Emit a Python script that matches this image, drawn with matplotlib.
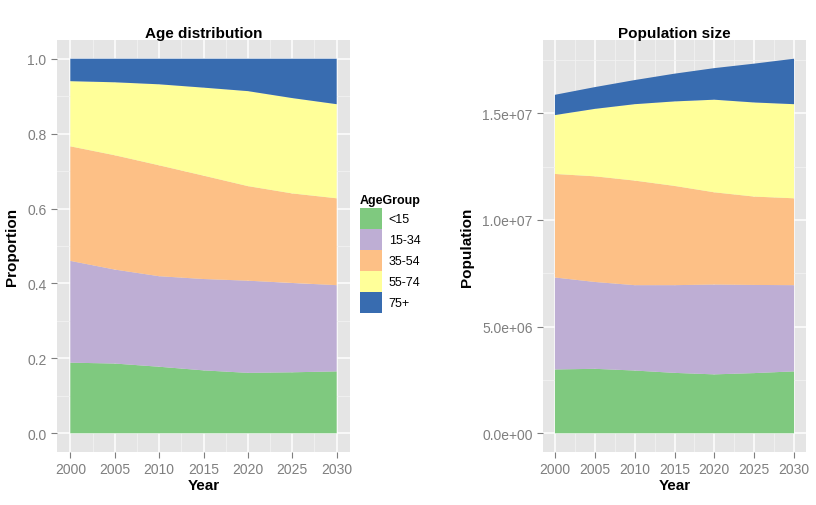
import numpy as np
import matplotlib.pyplot as plt
from matplotlib.patches import Patch
from matplotlib.ticker import MultipleLocator, FixedLocator

plt.rcParams['font.family'] = ['Liberation Sans', 'DejaVu Sans']

# population by age group
anos = np.array([2000, 2005, 2010, 2015, 2020, 2025, 2030])
grupos = ['<15', '15-34', '35-54', '55-74', '75+']
pop_0_14 = np.array([2.99, 3.02, 2.94, 2.83, 2.76, 2.82, 2.90]) * 1e6
pop_15_34 = np.array([4.31, 4.07, 4.00, 4.11, 4.21, 4.13, 4.04]) * 1e6
pop_35_54 = np.array([4.85, 4.95, 4.90, 4.65, 4.32, 4.14, 4.07]) * 1e6
pop_55_74 = np.array([2.76, 3.16, 3.58, 3.96, 4.34, 4.41, 4.41]) * 1e6
pop_75 = np.array([0.95, 1.02, 1.13, 1.30, 1.48, 1.82, 2.13]) * 1e6
cores = ['#7FC97F', '#BEAED4', '#FDC086', '#FFFF99', '#386CB0']

populacao = np.vstack([pop_0_14, pop_15_34, pop_35_54, pop_55_74, pop_75])
proporcao = populacao / populacao.sum(axis=0)

fig = plt.figure(figsize=(8.16, 5.06), dpi=100)
ax1 = fig.add_axes([57 / 816, 53 / 506, 293 / 816, 412 / 506])
ax2 = fig.add_axes([543 / 816, 53 / 506, 263 / 816, 412 / 506])


def estilo(ax):
    ax.set_facecolor('#E5E5E5')
    for s in ax.spines.values():
        s.set_visible(False)
    ax.grid(which='major', color='white', linewidth=1.1)
    ax.grid(which='minor', color='#F2F2F2', linewidth=0.6)
    ax.set_axisbelow(True)
    ax.tick_params(which='major', colors='#7F7F7F', labelsize=10, length=4, width=0.8)
    ax.tick_params(which='minor', length=0)
    ax.xaxis.set_major_locator(MultipleLocator(5))
    ax.xaxis.set_minor_locator(MultipleLocator(2.5))
    ax.set_xlim(1998.5, 2031.5)
    ax.set_xlabel('Year', fontsize=11, fontweight='bold', labelpad=1)


# age distribution
ax1.stackplot(anos, proporcao, colors=cores, linewidth=0)
estilo(ax1)
ax1.set_ylim(-0.05, 1.05)
ax1.yaxis.set_major_locator(FixedLocator([0, 0.2, 0.4, 0.6, 0.8, 1.0]))
ax1.yaxis.set_minor_locator(FixedLocator([0.1, 0.3, 0.5, 0.7, 0.9]))
ax1.set_yticklabels(['0.0', '0.2', '0.4', '0.6', '0.8', '1.0'])
ax1.set_ylabel('Proportion', fontsize=11, fontweight='bold', labelpad=6)
ax1.set_title('Age distribution', fontsize=11, fontweight='bold', pad=2)

# population size
ax2.stackplot(anos, populacao, colors=cores, linewidth=0)
estilo(ax2)
topo = populacao.sum(axis=0).max()
ax2.set_ylim(-0.05 * topo, 1.05 * topo)
ax2.yaxis.set_major_locator(FixedLocator([0, 5e6, 1e7, 1.5e7]))
ax2.yaxis.set_minor_locator(FixedLocator([2.5e6, 7.5e6, 1.25e7, 1.75e7]))
ax2.set_yticklabels(['0.0e+00', '5.0e+06', '1.0e+07', '1.5e+07'])
ax2.set_ylabel('Population', fontsize=11, fontweight='bold', labelpad=6)
ax2.set_title('Population size', fontsize=11, fontweight='bold', pad=2)

# legenda
alcas = [Patch(facecolor=c, edgecolor='none') for c in cores]
leg = fig.legend(alcas, grupos, title='AgeGroup', loc='upper left',
                 bbox_to_anchor=(360 / 816, 1 - 195 / 506), frameon=False,
                 fontsize=9, title_fontproperties={'weight': 'bold', 'size': 9},
                 handlelength=1.75, handleheight=2.2, labelspacing=0,
                 handletextpad=0.55, borderpad=0, borderaxespad=0,
                 alignment='left')
leg._legend_box.sep = 1.5

plt.savefig('out.png', dpi=100)
